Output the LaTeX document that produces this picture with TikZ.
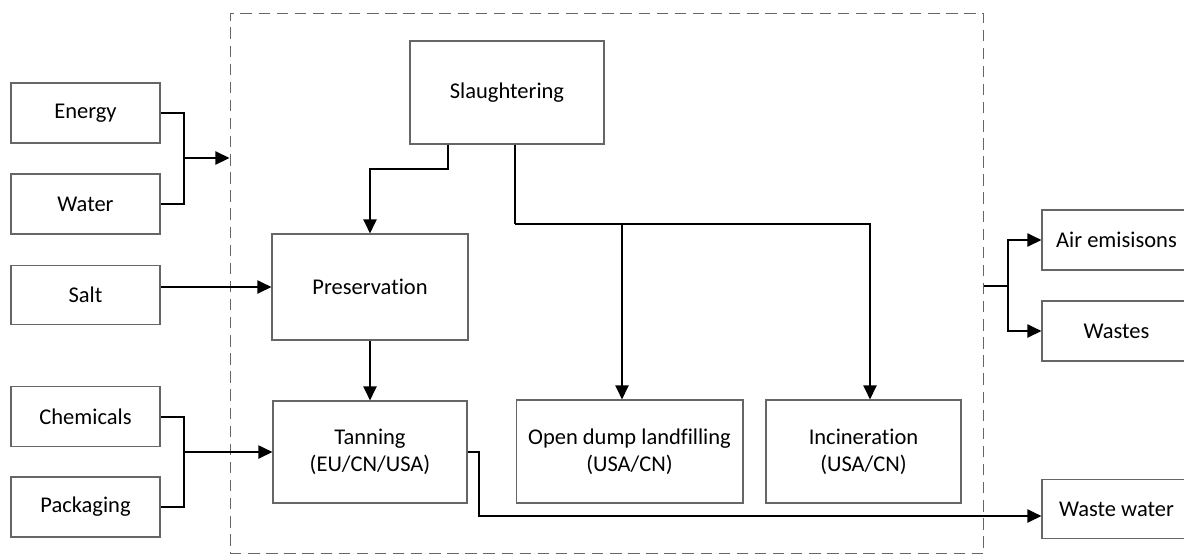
\documentclass[tikz,border=0pt]{standalone}
\usepackage{fontspec}
\setmainfont{Carlito}[Ligatures=NoCommon]
\usetikzlibrary{arrows.meta,positioning}

\begin{document}
\begin{tikzpicture}[
  x = 0.02cm, y = -0.02cm,
  > = {Triangle[length=8pt,width=7.4pt]},
  box/.style = {draw=black!60,line width=0.6pt,align=center,inner sep=2pt,
    font=\fontsize{12.8}{15.5}\selectfont},
  side/.style = {box,minimum width=2.98cm,minimum height=1.2cm},
  flow/.style = {line width=1.15pt},
  bound/.style = {draw=black!60,line width=0.6pt,dash pattern=on 6.5pt off 3.8pt,
    minimum width=15.08cm,minimum height=10.82cm}
  ]
  \useasboundingbox (0,0) rectangle (1184,556);
  \clip (0,0) rectangle (1184,556);

  \node[bound] (sys) at (607,283.5) {};

  % inputs
  \node[side] (energy) at (85.5,113) {Energy};
  \node[side] (water) at (85.5,204) {Water};
  \node[side,minimum height=1.18cm] (salt) at (85.5,295) {Salt};
  \node[side] (chem) at (85.5,416.5) {Chemicals};
  \node[side] (pack) at (85.5,507) {Packaging};

  % process
  \node[box,minimum width=3.88cm,minimum height=2.06cm] (slaughter) at (507,92.5) {Slaughtering};
  \node[box,minimum width=3.92cm,minimum height=2.12cm] (preserv) at (370,287) {Preservation};
  \node[box,minimum width=3.88cm,minimum height=2.04cm] (tanning) at (370,452) {Tanning\\(EU/CN/USA)};
  \node[box,minimum width=4.54cm,minimum height=2.06cm] (dump) at (629.5,451.5) {Open dump landfilling\\(USA/CN)};
  \node[box,minimum width=3.9cm,minimum height=2.06cm] (incin) at (863.5,451.5) {Incineration\\(USA/CN)};

  % outputs
  \node[side] (air) at (1116.5,240) {Air emisisons};
  \node[side] (wastes) at (1116.5,331) {Wastes};
  \node[side,minimum height=1.18cm] (wwater) at (1116.5,509) {Waste water};

  \coordinate (in1) at (184,158);
  \coordinate (in2) at (184,452);
  \coordinate (split) at (515,224);
  \coordinate (out1) at (1008,286);
  \coordinate (ww) at (479,516);
  \coordinate (dumpin) at ([xshift=-0.15cm]dump.north);
  \coordinate (incin) at ([xshift=0.13cm]incin.north);

  \draw[flow] (energy.east) -| (in1);
  \draw[flow] (water.east) -| (in1);
  \draw[flow,->] (in1) -- (in1 -| sys.west);
  \draw[flow,->] (salt.east |- preserv.west) -- (preserv.west);
  \draw[flow] (chem.east) -| (in2);
  \draw[flow] (pack.east) -| (in2);
  \draw[flow,->] (in2) -- (tanning.west);

  \draw[flow,->] ([xshift=-1.18cm]slaughter.south) -- ++(0,24) -| (preserv.north);
  \draw[flow] (slaughter.south -| split) -- (split);
  \draw[flow,->] (split) -| (incin);
  \draw[flow,->] (split -| dumpin) -- (dumpin);
  \draw[flow,->] (preserv.south) -- (tanning.north);

  \draw[flow,->] (tanning.east) -| (ww) -- (ww -| wwater.west);
  \draw[flow] (sys.east |- out1) -- (out1);
  \draw[flow,->] (out1) |- (air.west);
  \draw[flow,->] (out1) |- (wastes.west);
\end{tikzpicture}
\end{document}
